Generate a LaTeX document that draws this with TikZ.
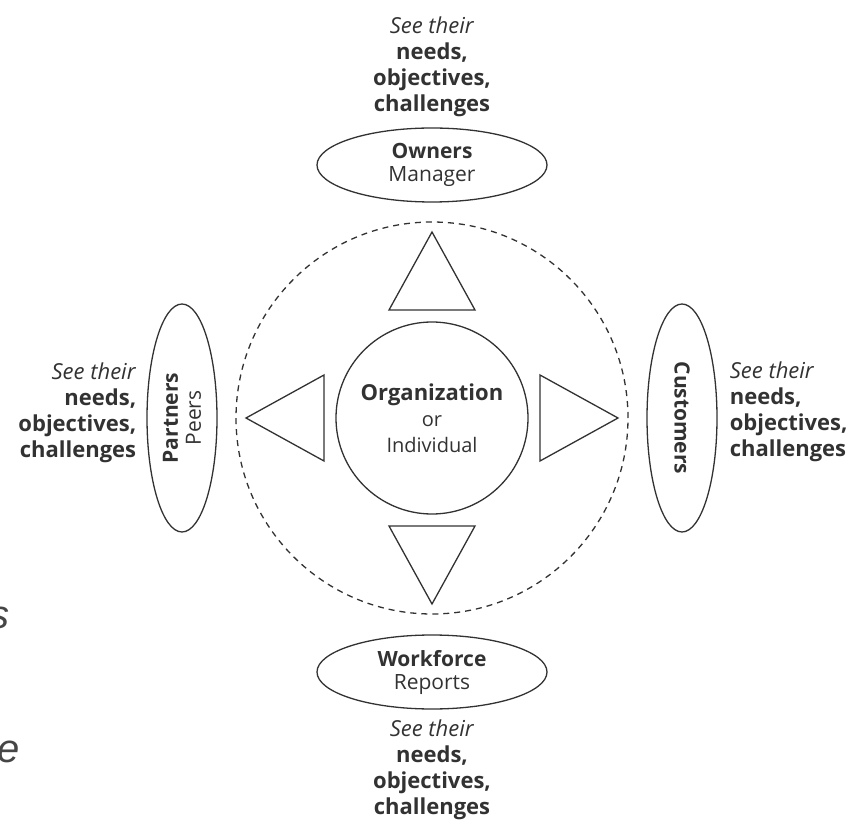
\documentclass[tikz,border=0pt]{standalone}
\usepackage{fontspec}
\setmainfont{Open Sans}
\newfontfamily\strayfont{Liberation Sans}
\usetikzlibrary{positioning,shapes.geometric}
\definecolor{ink}{RGB}{50,50,50}

\begin{document}
\begin{tikzpicture}[x=1pt, y=1pt,
  party/.style={draw=ink, ellipse, line width=1.3pt, inner sep=0pt,
    minimum width=230pt, minimum height=74pt, align=center, text=ink,
    font=\fontsize{21}{23}\selectfont},
  seetxt/.style={text=ink, inner sep=0pt, font=\fontsize{22}{26}\selectfont},
  tri/.style={draw=ink, line width=1.3pt, line join=miter},
  stray/.style={text=ink!90, inner sep=0pt, font=\strayfont\fontsize{40}{40}\selectfont}
]
  \useasboundingbox (0,0) rectangle (867,823);
  \clip (0,0) rectangle (867,823);
  \coordinate (c) at (432,405);

  % centre and dashed ring
  \node[circle, draw=ink, line width=1.3pt, minimum size=192pt, inner sep=0pt,
    align=center, text=ink, font=\fontsize{22}{26}\selectfont] (org) at (c)
    {\textbf{Organization}\\{\fontsize{20}{22}\selectfont or}\\{\fontsize{20}{22}\selectfont Individual}};
  \node[circle, draw=ink, line width=1.3pt, dash pattern=on 6pt off 5pt,
    minimum size=392pt, inner sep=0pt] (ring) at (c) {};

  % four triangles
  \foreach \a in {0,90,180,270}
    \draw[tri, shift={(c)}, rotate=\a] (0,186) -- (43,108) -- (-43,108) -- cycle;

  % stakeholders
  \node[party] (owners) at (432,658) {\textbf{Owners}\\Manager};
  \node[party] (workforce) at (432,151) {\textbf{Workforce}\\Reports};
  \node[party, rotate=90, minimum width=228pt, minimum height=70pt] (partners)
    at (182,405) {\textbf{Partners}\\Peers};
  \node[party, rotate=-90, minimum width=228pt, minimum height=70pt] (customers)
    at (682,405) {\textbf{Customers}};

  % see their ...
  \node[seetxt, align=center, above=10pt of owners] (ownerstxt)
    {\textit{See their}\\\textbf{needs,}\\\textbf{objectives,}\\\textbf{challenges}};
  \node[seetxt, align=center, below=10pt of workforce] (workforcetxt)
    {\textit{See their}\\\textbf{needs,}\\\textbf{objectives,}\\\textbf{challenges}};
  \node[seetxt, align=right, left=10pt of partners.north, yshift=5pt] (partnerstxt)
    {\textit{See their}\\\textbf{needs,}\\\textbf{objectives,}\\\textbf{challenges}};
  \node[seetxt, align=left, right=12pt of customers.north, yshift=6pt] (customerstxt)
    {\textit{See their}\\\textbf{needs,}\\\textbf{objectives,}\\\textbf{challenges}};

  % cut-off letters at the left edge
  \node[stray, anchor=base east] (cuts) at (10,195) {\textit{s}};
  \node[stray, anchor=base east] (cute) at (20,61) {\textit{e}};
\end{tikzpicture}
\end{document}
